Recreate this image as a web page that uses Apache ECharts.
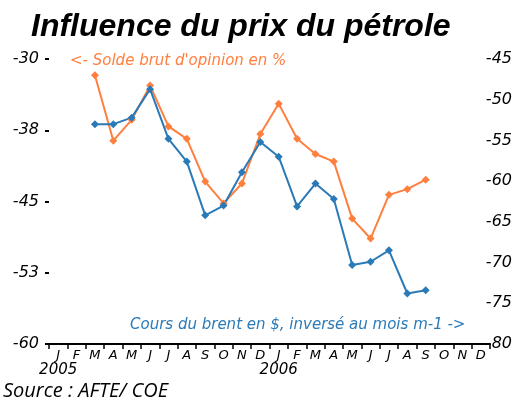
<!DOCTYPE html>
<html>
<head>
<meta charset="utf-8">
<script src="https://cdn.jsdelivr.net/npm/echarts@6/dist/echarts.min.js"></script>
<style>
  html, body { margin: 0; padding: 0; background: #fff; }
  #chart { width: 531px; height: 407px; }
</style>
</head>
<body>
<div id="chart"></div>
<script>
  // mois de janvier 2005 a decembre 2006
  var months = ['J','F','M','A','M','J','J','A','S','O','N','D',
                'J','F','M','A','M','J','J','A','S','O','N','D'];
  var years = {0: '2005', 12: '2006'};

  // solde brut d'opinion (%), axe gauche
  var solde = [null, null, -31.7, -38.6, -36.4, -32.8, -37.1, -38.4, -42.9, -45.2, -43.1, -37.9,
               -34.7, -38.4, -40.0, -40.8, -46.8, -48.9, -44.3, -43.7, -42.7, null, null, null];
  // cours du brent inverse (m-1), axe droit
  var brent = [null, null, -53.0, -53.0, -52.2, -48.7, -54.8, -57.6, -64.2, -63.0, -58.9, -55.2,
               -57.0, -63.1, -60.3, -62.2, -70.3, -69.9, -68.5, -73.8, -73.4, null, null, null];

  var leftTicks = [-60, -53, -45, -38, -30];
  var rightTicks = ['80', '-75', '-70', '-65', '-60', '-55', '-50', '-45'];

  var orange = '#ff7f3f';
  var blue = '#2a7ab8';

  var chart = echarts.init(document.getElementById('chart'));
  var option = {
    animation: false,
    grid: {left: 49, right: 41, top: 59, bottom: 63},
    title: {
      text: 'Influence du prix du pétrole',
      left: 26, top: 6,
      textStyle: {fontFamily: 'Liberation Sans', fontStyle: 'italic', fontWeight: 'bold', fontSize: 32, color: '#000'}
    },
    graphic: [
      {type: 'text', left: 70, top: 54,
        style: {text: "<- Solde brut d'opinion en %", fill: orange, font: 'italic 15px "DejaVu Sans"'}},
      {type: 'text', left: 130, top: 318,
        style: {text: 'Cours du brent en $, inversé au mois m-1 ->', fill: blue, font: 'italic 15px "DejaVu Sans"'}},
      {type: 'text', left: 3, top: 381,
        style: {text: 'Source : AFTE/ COE', fill: '#000', font: 'italic 20px "Open Sans"'}}
    ],
    xAxis: {
      type: 'category',
      data: months,
      boundaryGap: true,
      axisLine: {lineStyle: {color: '#000', width: 2}},
      axisTick: {show: true, length: 5, lineStyle: {color: '#000', width: 1.5}},
      axisLabel: {
        interval: 0, margin: 5, color: '#000',
        fontFamily: 'DejaVu Sans', fontStyle: 'italic', fontSize: 13,
        formatter: function (v, i) {
          return years[i] ? v + '\n{y|' + years[i] + '}' : v;
        },
        rich: {y: {fontFamily: 'DejaVu Sans', fontStyle: 'italic', fontSize: 15, color: '#000', lineHeight: 17}}
      }
    },
    yAxis: [
      {
        type: 'value', position: 'left',
        min: -60, max: -30, interval: 7.5,
        splitLine: {show: false},
        axisLine: {show: false},
        axisTick: {show: true, length: 4, lineStyle: {color: '#000', width: 2}},
        axisLabel: {
          margin: 10, color: '#000', fontFamily: 'DejaVu Sans', fontStyle: 'italic', fontSize: 16,
          formatter: function (v) {
            var idx = Math.round((v + 60) / 7.5);
            return String(leftTicks[idx]);
          }
        }
      },
      {
        type: 'value', position: 'right',
        min: -80, max: -45, interval: 5,
        splitLine: {show: false},
        axisLine: {show: false},
        axisTick: {show: false},
        axisLabel: {
          margin: 22, align: 'right', color: '#000', fontFamily: 'DejaVu Sans', fontStyle: 'italic', fontSize: 16,
          formatter: function (v) {
            return rightTicks[Math.round((v + 80) / 5)];
          }
        }
      }
    ],
    series: [
      {
        type: 'line', yAxisIndex: 0, data: solde,
        symbol: 'diamond', symbolSize: 8,
        lineStyle: {color: orange, width: 2},
        itemStyle: {color: orange}
      },
      {
        type: 'line', yAxisIndex: 1, data: brent,
        symbol: 'diamond', symbolSize: 8,
        lineStyle: {color: blue, width: 2},
        itemStyle: {color: blue}
      }
    ]
  };
  chart.setOption(option);
</script>
</body>
</html>
